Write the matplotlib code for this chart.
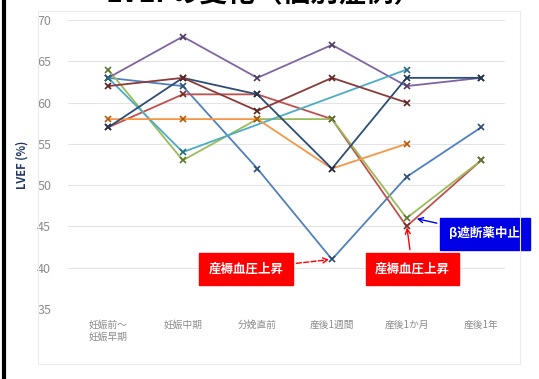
import numpy as np
import matplotlib.pyplot as plt
from matplotlib.patches import Rectangle
from matplotlib.lines import Line2D

plt.rcParams['font.family'] = ['Noto Sans CJK JP', 'DejaVu Sans']

# Categories (time points)
categories = ['妊娠前～\n妊娠早期', '妊娠中期', '分娩直前', '産後1週間', '産後1か月', '産後1年']
yticks = [35, 40, 45, 50, 55, 60, 65, 70]

# LVEF per case (nan = not measured)
nan = np.nan
case_purple = [63, 68, 63, 67, 62, 63]
case_brown = [62, 63, 59, 63, 60, nan]
case_navy = [57, 63, 61, 52, 63, 63]
case_blue = [63, 62, 52, 41, 51, 57]
case_orange = [58, 58, 58, 52, 55, nan]
case_green = [64, 53, 58, 58, 46, 53]
case_cyan = [63, 54, nan, nan, 64, nan]
case_red = [57, 61, 61, 58, 45, 53]

series = [
    (case_blue, '#4F81BD', '#2C4D75'),
    (case_red, '#C0504D', '#772C2A'),
    (case_green, '#9BBB59', '#5F7530'),
    (case_purple, '#8064A2', '#4D3B62'),
    (case_cyan, '#4BACC6', '#276A7C'),
    (case_orange, '#F79646', '#B65708'),
    (case_navy, '#2C4D75', '#1F3550'),
    (case_brown, '#8B3A38', '#5A2221'),
]

fig = plt.figure(figsize=(5.39, 3.79), dpi=100)
ax = fig.add_axes([0.126, 0.185, 0.811, 0.762])

x = np.arange(len(categories))
for vals, col, mcol in series:
    v = np.array(vals, dtype=float)
    ok = ~np.isnan(v)
    ax.plot(x[ok], v[ok], color=col, linewidth=1.3, marker='x', markersize=4,
            markeredgecolor=mcol, markeredgewidth=1.2, zorder=3)

ax.set_ylim(35, 70)
ax.set_xlim(-0.54, 5.32)
ax.set_yticks(yticks)
ax.set_xticks(x)
ax.set_xticklabels(categories, fontsize=7, color='#8C8C8C', multialignment='left')
ax.tick_params(axis='y', labelsize=9, colors='#8C8C8C', length=0, pad=12)
ax.tick_params(axis='x', length=0, pad=8)
ax.grid(axis='y', color='#E4E4E4', linewidth=0.8)
ax.set_axisbelow(True)
for s in ax.spines.values():
    s.set_visible(False)
ax.set_ylabel('LVEF (%)', fontsize=8, color='#1F3864', fontweight='bold', labelpad=6)

# annotations
box_kw = dict(color='white', fontsize=9, fontweight='bold', ha='center', va='center', zorder=5)
ax.annotate('産褥血圧上昇', xy=(3, 41), xytext=(1.85, 39.85),
            bbox=dict(boxstyle='square,pad=0.75', fc='#FF0000', ec='#FF0000'),
            arrowprops=dict(arrowstyle='->', color='#FF0000', lw=1, linestyle='--'),
            **box_kw)
ax.annotate('産褥血圧上昇', xy=(4, 45.2), xytext=(4.08, 39.85),
            bbox=dict(boxstyle='square,pad=0.75', fc='#FF0000', ec='#FF0000'),
            arrowprops=dict(arrowstyle='->', color='#FF0000', lw=1),
            **box_kw)
ax.annotate('β遮断薬中止', xy=(4.1, 46.0), xytext=(5.05, 44.1),
            bbox=dict(boxstyle='square,pad=0.75', fc='#0000E6', ec='#0000E6'),
            arrowprops=dict(arrowstyle='->', color='#0000E6', lw=1),
            annotation_clip=False, **box_kw)

# cropped title and frame
fig.text(0.49, 0.982, 'LVEFの変化（個別症例）', fontsize=20, fontweight='bold',
         ha='center', va='bottom', color='black')
fig.add_artist(Rectangle((0.07, 0.04), 0.895, 0.93, transform=fig.transFigure,
                         fill=False, ec='#EBEBEB', lw=0.8))
fig.add_artist(Line2D([0.008, 0.008], [0, 1], transform=fig.transFigure,
                      color='black', lw=3))

fig.savefig('out.png', dpi=100)
